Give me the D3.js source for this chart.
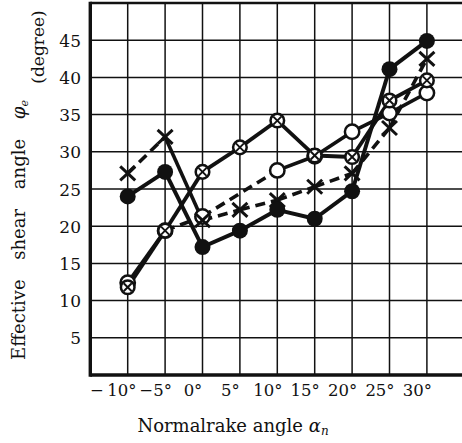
<!DOCTYPE html>
<html>
<head>
<meta charset="utf-8">
<script src="https://cdn.jsdelivr.net/npm/d3@7"></script>
<style>
  html, body { margin: 0; padding: 0; background: #fff; }
  svg { display: block; }
  text { font-family: "DejaVu Serif", "Liberation Serif", serif; fill: #111; }
</style>
</head>
<body>
<svg id="chart" width="462" height="443"></svg>
<script>
// ---- data ----
const xTicks = [-10, -5, 0, 5, 10, 15, 20, 25, 30];
const xTickLabels = ["\u2212\u200910\u00b0", "\u22125\u00b0", "0\u00b0", "5\u00b0", "10\u00b0", "15\u00b0", "20\u00b0", "25\u00b0", "30\u00b0"];
const yTicks = [5, 10, 15, 20, 25, 30, 35, 40, 45];
const yTickLabels = ["5", "10", "15", "20", "25", "30", "35", "40", "45"];

const rakeFilled = [-10, -5, 0, 5, 10, 15, 20, 25, 30];
const phiFilled  = [24.0, 27.3, 17.2, 19.4, 22.2, 21.0, 24.7, 41.1, 44.9];

const rakeCrossCircle = [-10, -5, 0, 5, 10, 15, 20, 25, 30];
const phiCrossCircle  = [11.8, 19.4, 27.3, 30.6, 34.2, 29.5, 29.3, 36.9, 39.6];

const rakeOpen = [-10, -5, 0, 10, 15, 20, 25, 30];
const phiOpen  = [12.4, 19.4, 21.3, 27.5, 29.4, 32.7, 35.2, 37.9];

const rakeCross = [-10, -5, 0, 5, 10, 15, 20, 25, 30];
const phiCross  = [27.1, 32.0, 20.8, 22.2, 23.5, 25.3, 27.1, 33.2, 42.5];

// ---- layout ----
const svg = d3.select("#chart");
const x = d3.scaleLinear().domain([-15, 35]).range([90.3, 464.3]);
const y = d3.scaleLinear().domain([0, 50]).range([375, 3]);
const ink = "#111";
const serif = "'DejaVu Serif', 'Liberation Serif', serif";

// grid
const g = svg.append("g");
g.selectAll("line.vg").data(xTicks).enter().append("line")
  .attr("x1", d => x(d)).attr("x2", d => x(d))
  .attr("y1", y(50)).attr("y2", y(0))
  .attr("stroke", ink).attr("stroke-width", 1.5);
g.selectAll("line.hg").data(yTicks).enter().append("line")
  .attr("x1", x(-15)).attr("x2", x(35))
  .attr("y1", d => y(d)).attr("y2", d => y(d))
  .attr("stroke", ink).attr("stroke-width", 1.5);

// frame
g.append("line").attr("x1", x(-15)).attr("x2", x(35)).attr("y1", y(50)).attr("y2", y(50))
  .attr("stroke", ink).attr("stroke-width", 2.6);
g.append("line").attr("x1", x(-15)).attr("x2", x(35)).attr("y1", y(0)).attr("y2", y(0))
  .attr("stroke", ink).attr("stroke-width", 3.4);
g.append("line").attr("x1", x(-15)).attr("x2", x(-15)).attr("y1", y(50) - 1.3).attr("y2", y(0) + 1.7)
  .attr("stroke", ink).attr("stroke-width", 3.4);
g.append("line").attr("x1", x(35)).attr("x2", x(35)).attr("y1", y(50)).attr("y2", y(0))
  .attr("stroke", ink).attr("stroke-width", 3);

// axes text
const yAxis = d3.axisLeft(y).tickValues(yTicks).tickSize(0).tickPadding(0)
  .tickFormat((d, i) => yTickLabels[i]);
const ya = svg.append("g").attr("transform", "translate(81,0)").call(yAxis);
ya.select(".domain").remove();
ya.selectAll("text").style("font-family", serif)
  .style("font-size", "17px").attr("fill", ink).attr("dy", "0.36em");

const xAxis = d3.axisBottom(x).tickValues(xTicks).tickSize(0).tickPadding(0)
  .tickFormat((d, i) => xTickLabels[i]);
const xa = svg.append("g").attr("transform", "translate(-10,384)").call(xAxis);
xa.select(".domain").remove();
xa.selectAll("text").style("font-family", serif)
  .style("font-size", "16.5px").attr("fill", ink)
  .attr("dx", (d, i) => i === 0 ? -5 : 0);

// axis titles
const xt = svg.append("text").attr("x", 233).attr("y", 432).attr("text-anchor", "middle")
  .style("font-size", "18px");
xt.append("tspan").text("Normalrake angle ");
xt.append("tspan").text("\u03b1").style("font-style", "italic");
xt.append("tspan").text("n").style("font-style", "italic").style("font-size", "12px").attr("dy", 3);

const yt = svg.append("text").attr("transform", "translate(25,230) rotate(-90)")
  .attr("text-anchor", "middle").style("font-size", "18px").style("word-spacing", "14px");
yt.append("tspan").text("Effective shear angle ");
yt.append("tspan").text("\u03c6").style("font-style", "italic");
yt.append("tspan").text("e").style("font-style", "italic").style("font-size", "11px").attr("dy", 3);

svg.append("text").attr("transform", "translate(44,47) rotate(-90)")
  .attr("text-anchor", "middle").style("font-size", "17px").text("(degree)");

// ---- series lines ----
function segs(xs, ys) {
  const out = [];
  for (let i = 0; i < xs.length - 1; i++) out.push([[xs[i], ys[i]], [xs[i + 1], ys[i + 1]], i]);
  return out;
}
const line = d3.line().x(d => x(d[0])).y(d => y(d[1]));
function drawSeries(xs, ys, dashedIdx, width) {
  svg.append("g").selectAll("path").data(segs(xs, ys)).enter().append("path")
    .attr("d", d => line([d[0], d[1]]))
    .attr("fill", "none").attr("stroke", ink).attr("stroke-width", width)
    .attr("stroke-dasharray", d => dashedIdx.includes(d[2]) ? "10,6" : null);
}
drawSeries(rakeFilled, phiFilled, [], 4);
drawSeries(rakeCrossCircle, phiCrossCircle, [], 3.8);
drawSeries(rakeOpen, phiOpen, [1, 2], 3.6);
drawSeries(rakeCross, phiCross, [0, 2, 3, 4, 5, 6, 7], 3.6);

// ---- markers ----
const pts = (xs, ys) => xs.map((v, i) => [v, ys[i]]);

// open circles
svg.append("g").selectAll("circle").data(pts(rakeOpen, phiOpen)).enter().append("circle")
  .attr("cx", d => x(d[0])).attr("cy", d => y(d[1])).attr("r", 7.2)
  .attr("fill", "#fff").attr("stroke", ink).attr("stroke-width", 2.5);

// crosses
const cr = svg.append("g").selectAll("g").data(pts(rakeCross, phiCross)).enter().append("g")
  .attr("transform", d => `translate(${x(d[0])},${y(d[1])})`);
cr.append("line").attr("x1", -7.5).attr("y1", -7).attr("x2", 7.5).attr("y2", 7)
  .attr("stroke", ink).attr("stroke-width", 3);
cr.append("line").attr("x1", -7.5).attr("y1", 7).attr("x2", 7.5).attr("y2", -7)
  .attr("stroke", ink).attr("stroke-width", 3);

// circled crosses
const cc = svg.append("g").selectAll("g").data(pts(rakeCrossCircle, phiCrossCircle)).enter().append("g")
  .attr("transform", d => `translate(${x(d[0])},${y(d[1])})`);
cc.append("circle").attr("r", 6.8).attr("fill", "#fff").attr("stroke", ink).attr("stroke-width", 2.5);
cc.append("line").attr("x1", -4).attr("y1", -4).attr("x2", 4).attr("y2", 4)
  .attr("stroke", ink).attr("stroke-width", 1.9);
cc.append("line").attr("x1", -4).attr("y1", 4).attr("x2", 4).attr("y2", -4)
  .attr("stroke", ink).attr("stroke-width", 1.9);

// filled circles
svg.append("g").selectAll("circle").data(pts(rakeFilled, phiFilled)).enter().append("circle")
  .attr("cx", d => x(d[0])).attr("cy", d => y(d[1])).attr("r", 8)
  .attr("fill", ink);
</script>
</body>
</html>
